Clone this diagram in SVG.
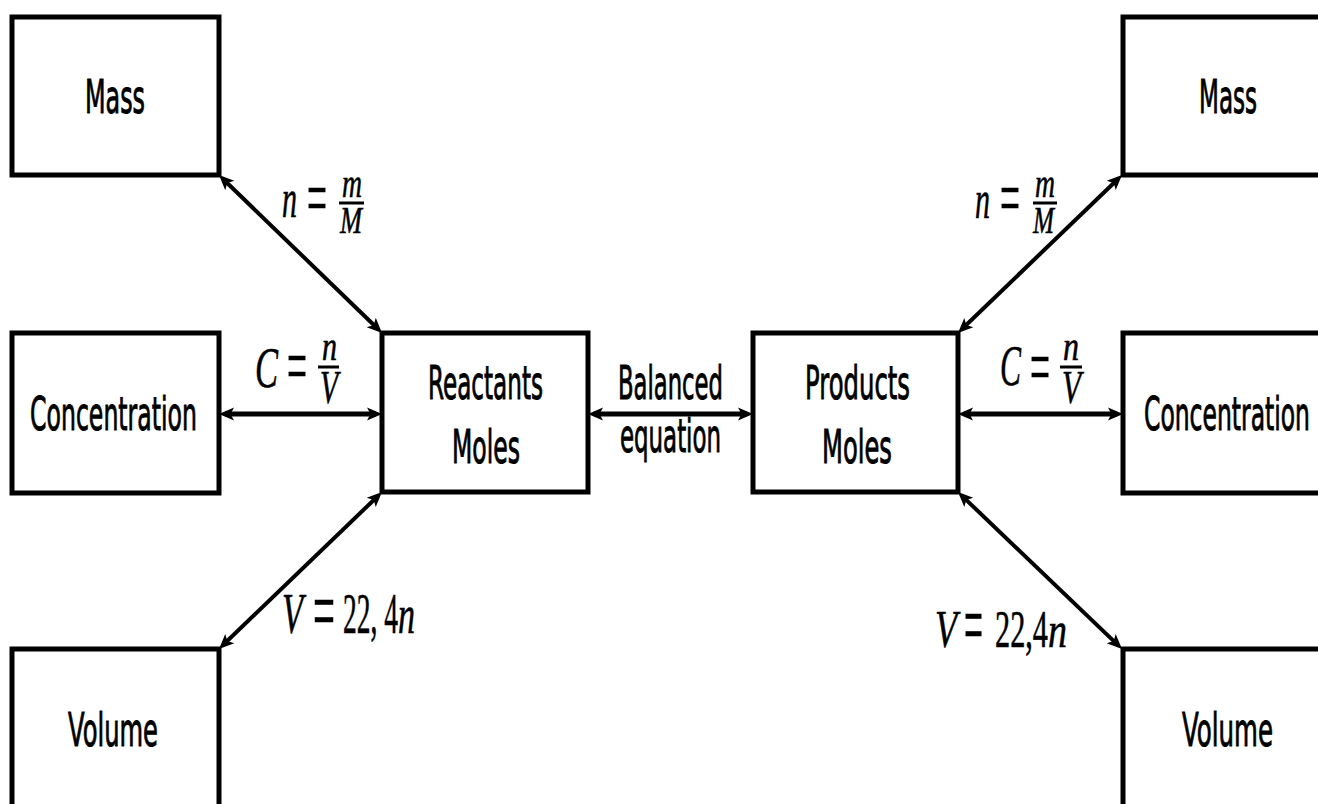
<svg xmlns="http://www.w3.org/2000/svg" width="1318" height="804" viewBox="0 0 1318 804">
<style>
.box{fill:#fff;stroke:#000;stroke-width:5}
.lbl{font-family:"DejaVu Sans","Liberation Sans",sans-serif;font-size:46px;fill:#000;stroke:#000;stroke-width:1;text-anchor:middle}
.mi{font-family:"Liberation Serif","DejaVu Serif",serif;font-style:italic;fill:#000;stroke:#000;stroke-width:0.6}
.mn{font-family:"Liberation Serif","DejaVu Serif",serif;fill:#000;stroke:#000;stroke-width:0.6}
.bar{stroke:#000;stroke-width:3}
.con line{stroke:#000;fill:none}
.d{stroke-width:4}
.h{stroke-width:5}
</style>
<defs>
<marker id="ah" markerUnits="userSpaceOnUse" markerWidth="22" markerHeight="18" viewBox="0 -9 22 18" refX="9" refY="0" orient="auto-start-reverse">
<path d="M0,-6.5 L15,0 L0,6.5 L3.5,0 Z" fill="#000"/>
</marker>
</defs>
<rect width="1318" height="804" fill="#fff"/>

<g class="con" id="connectors">
<line class="d" x1="223.3" y1="179.2" x2="377.7" y2="328.8" marker-start="url(#ah)" marker-end="url(#ah)"/>
<line class="h" x1="225" y1="414" x2="376" y2="414" marker-start="url(#ah)" marker-end="url(#ah)"/>
<line class="d" x1="223.3" y1="644.8" x2="377.7" y2="496.2" marker-start="url(#ah)" marker-end="url(#ah)"/>
<line class="h" x1="594" y1="414" x2="747" y2="414" marker-start="url(#ah)" marker-end="url(#ah)"/>
<line class="d" x1="962.3" y1="328.8" x2="1117.7" y2="179.2" marker-start="url(#ah)" marker-end="url(#ah)"/>
<line class="h" x1="964" y1="414" x2="1117" y2="414" marker-start="url(#ah)" marker-end="url(#ah)"/>
<line class="d" x1="962.3" y1="496.1" x2="1117.7" y2="644.9" marker-start="url(#ah)" marker-end="url(#ah)"/>
</g>

<g id="mass-left"><rect class="box" x="12" y="17" width="207" height="158"/><text class="lbl" x="115" y="113" textLength="60" lengthAdjust="spacingAndGlyphs">Mass</text></g>
<g id="conc-left"><rect class="box" x="12" y="333" width="207" height="160"/><text class="lbl" x="113.5" y="430" textLength="167" lengthAdjust="spacingAndGlyphs">Concentration</text></g>
<g id="vol-left"><rect class="box" x="12" y="649" width="207" height="170"/><text class="lbl" x="113" y="746" textLength="90" lengthAdjust="spacingAndGlyphs">Volume</text></g>
<g id="reactants"><rect class="box" x="382" y="333" width="206" height="159"/><text class="lbl" x="485.5" y="399" textLength="115" lengthAdjust="spacingAndGlyphs">Reactants</text><text class="lbl" x="486" y="463" textLength="68" lengthAdjust="spacingAndGlyphs">Moles</text></g>
<g id="products"><rect class="box" x="753" y="333" width="205" height="159"/><text class="lbl" x="857.5" y="399" textLength="105" lengthAdjust="spacingAndGlyphs">Products</text><text class="lbl" x="857" y="463" textLength="70" lengthAdjust="spacingAndGlyphs">Moles</text></g>
<g id="mass-right"><rect class="box" x="1123" y="17" width="207" height="158"/><text class="lbl" x="1228" y="113" textLength="58" lengthAdjust="spacingAndGlyphs">Mass</text></g>
<g id="conc-right"><rect class="box" x="1123" y="333" width="207" height="160"/><text class="lbl" x="1227" y="430" textLength="166" lengthAdjust="spacingAndGlyphs">Concentration</text></g>
<g id="vol-right"><rect class="box" x="1123" y="649" width="207" height="170"/><text class="lbl" x="1227.5" y="746" textLength="91" lengthAdjust="spacingAndGlyphs">Volume</text></g>

<g id="label-balanced"><text class="lbl" x="670.5" y="399" textLength="105" lengthAdjust="spacingAndGlyphs">Balanced</text><text class="lbl" x="670.5" y="452" textLength="101" lengthAdjust="spacingAndGlyphs">equation</text></g>

<g id="label-n-left">
<text class="mi" x="282" y="217" font-size="54" textLength="15" lengthAdjust="spacingAndGlyphs">n</text>
<text class="mn" x="307" y="225" font-size="80" textLength="20" lengthAdjust="spacingAndGlyphs">=</text>
<text class="mi" x="342" y="197" font-size="41" textLength="20" lengthAdjust="spacingAndGlyphs">m</text>
<line class="bar" x1="339" y1="203" x2="364" y2="203"/>
<text class="mi" x="340" y="233" font-size="38" textLength="22" lengthAdjust="spacingAndGlyphs">M</text>
</g>
<g id="label-c-left">
<text class="mi" x="255" y="387" font-size="58" textLength="23" lengthAdjust="spacingAndGlyphs">C</text>
<text class="mn" x="287" y="393" font-size="80" textLength="20" lengthAdjust="spacingAndGlyphs">=</text>
<text class="mi" x="322" y="360" font-size="39" textLength="15" lengthAdjust="spacingAndGlyphs">n</text>
<line class="bar" x1="318" y1="367" x2="339" y2="367"/>
<text class="mi" x="320" y="403" font-size="46" textLength="18" lengthAdjust="spacingAndGlyphs">V</text>
</g>
<g id="label-v-left">
<text class="mi" x="282" y="633" font-size="57" textLength="21" lengthAdjust="spacingAndGlyphs">V</text>
<text class="mn" x="313" y="640" font-size="86" textLength="22" lengthAdjust="spacingAndGlyphs">=</text>
<text class="mn" x="343" y="633" font-size="56" textLength="55" lengthAdjust="spacingAndGlyphs">22, 4</text>
<text class="mi" x="398" y="633" font-size="54" textLength="17" lengthAdjust="spacingAndGlyphs">n</text>
</g>

<g id="label-n-right">
<text class="mi" x="975" y="218" font-size="54" textLength="15" lengthAdjust="spacingAndGlyphs">n</text>
<text class="mn" x="1000" y="225" font-size="80" textLength="20" lengthAdjust="spacingAndGlyphs">=</text>
<text class="mi" x="1035" y="197" font-size="41" textLength="20" lengthAdjust="spacingAndGlyphs">m</text>
<line class="bar" x1="1033" y1="203" x2="1057" y2="203"/>
<text class="mi" x="1033" y="233" font-size="38" textLength="21" lengthAdjust="spacingAndGlyphs">M</text>
</g>
<g id="label-c-right">
<text class="mi" x="1000" y="385" font-size="58" textLength="21" lengthAdjust="spacingAndGlyphs">C</text>
<text class="mn" x="1030" y="394" font-size="80" textLength="20" lengthAdjust="spacingAndGlyphs">=</text>
<text class="mi" x="1063" y="360" font-size="39" textLength="16" lengthAdjust="spacingAndGlyphs">n</text>
<line class="bar" x1="1060" y1="367" x2="1082" y2="367"/>
<text class="mi" x="1062" y="403" font-size="46" textLength="19" lengthAdjust="spacingAndGlyphs">V</text>
</g>
<g id="label-v-right">
<text class="mi" x="935" y="647" font-size="53" textLength="22" lengthAdjust="spacingAndGlyphs">V</text>
<text class="mn" x="964" y="654" font-size="86" textLength="19" lengthAdjust="spacingAndGlyphs">=</text>
<text class="mn" x="995" y="647" font-size="52" textLength="53" lengthAdjust="spacingAndGlyphs">22,4</text>
<text class="mi" x="1048" y="647" font-size="50" textLength="19" lengthAdjust="spacingAndGlyphs">n</text>
</g>
</svg>
